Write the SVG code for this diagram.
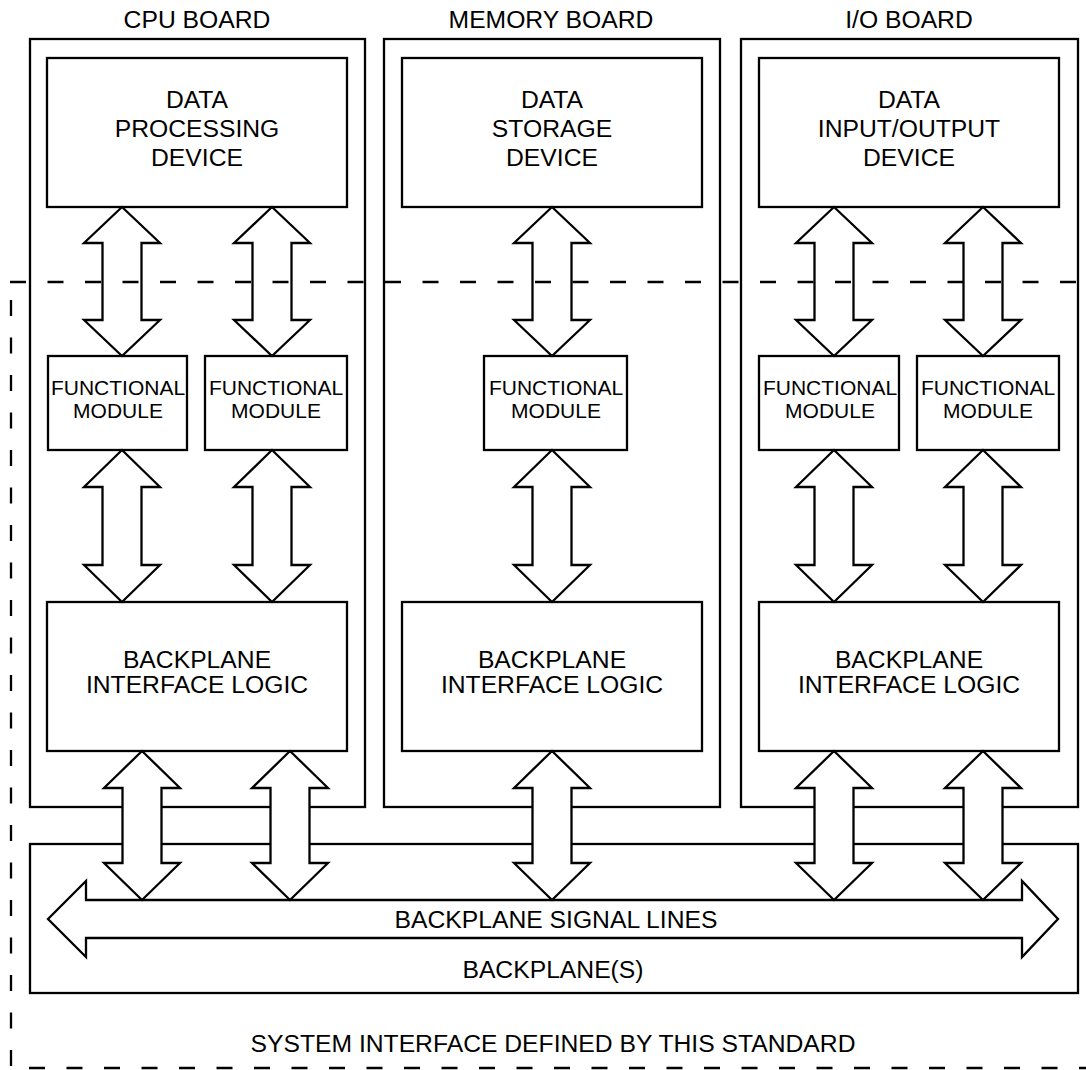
<svg xmlns="http://www.w3.org/2000/svg" width="1086" height="1070" viewBox="0 0 1086 1070">
<style>
.box{fill:#fff;stroke:#000;stroke-width:2.3}
.arr{fill:#fff;stroke:#000;stroke-width:2.3;stroke-linejoin:miter}
.dash{fill:none;stroke:#000;stroke-width:2.3;stroke-dasharray:16 21.5}
text{font-family:"Liberation Sans",Arial,Helvetica,sans-serif;font-size:24.7px;fill:#000;text-anchor:middle}
.fm{font-size:21px}
</style>
<rect width="1086" height="1070" fill="#fff"/>
<g id="cpu-board">
<rect class="box" x="30" y="39" width="335" height="768"/>
<text x="197" y="28">CPU BOARD</text>
</g>
<g id="memory-board">
<rect class="box" x="384" y="39" width="336" height="768"/>
<text x="551" y="28">MEMORY BOARD</text>
</g>
<g id="io-board">
<rect class="box" x="741" y="39" width="337" height="768"/>
<text x="909" y="28">I/O BOARD</text>
</g>
<g id="backplane">
<rect class="box" x="30" y="844" width="1048" height="149"/>
<text x="553" y="978">BACKPLANE(S)</text>
</g>
<g id="cpu-data">
<rect class="box" x="47" y="58" width="300" height="149"/>
<text x="197" y="108">DATA</text><text x="197" y="137">PROCESSING</text><text x="197" y="166">DEVICE</text>
</g>
<g id="mem-data">
<rect class="box" x="402" y="58" width="300" height="149"/>
<text x="552" y="108">DATA</text><text x="552" y="137">STORAGE</text><text x="552" y="166">DEVICE</text>
</g>
<g id="io-data">
<rect class="box" x="759" y="58" width="300" height="149"/>
<text x="909" y="108">DATA</text><text x="909" y="137">INPUT/OUTPUT</text><text x="909" y="166">DEVICE</text>
</g>
<g id="cpu-fm1">
<rect class="box" x="48" y="356" width="139" height="94"/>
<text class="fm" x="118" y="395">FUNCTIONAL</text><text class="fm" x="118" y="418">MODULE</text>
</g>
<g id="cpu-fm2">
<rect class="box" x="205" y="356" width="142" height="94"/>
<text class="fm" x="276" y="395">FUNCTIONAL</text><text class="fm" x="276" y="418">MODULE</text>
</g>
<g id="mem-fm">
<rect class="box" x="484" y="356" width="143" height="94"/>
<text class="fm" x="556" y="395">FUNCTIONAL</text><text class="fm" x="556" y="418">MODULE</text>
</g>
<g id="io-fm1">
<rect class="box" x="759" y="356" width="140" height="94"/>
<text class="fm" x="830" y="395">FUNCTIONAL</text><text class="fm" x="830" y="418">MODULE</text>
</g>
<g id="io-fm2">
<rect class="box" x="917" y="356" width="142" height="94"/>
<text class="fm" x="988" y="395">FUNCTIONAL</text><text class="fm" x="988" y="418">MODULE</text>
</g>
<g id="cpu-bil">
<rect class="box" x="47" y="602" width="300" height="149"/>
<text x="197" y="668">BACKPLANE</text><text x="197" y="693">INTERFACE LOGIC</text>
</g>
<g id="mem-bil">
<rect class="box" x="402" y="602" width="300" height="149"/>
<text x="552" y="668">BACKPLANE</text><text x="552" y="693">INTERFACE LOGIC</text>
</g>
<g id="io-bil">
<rect class="box" x="759" y="602" width="300" height="149"/>
<text x="909" y="668">BACKPLANE</text><text x="909" y="693">INTERFACE LOGIC</text>
</g>
<g id="connectors">
<path class="arr" d="M48 919 L86 881 L86 900 L1022 900 L1022 881 L1058 919 L1022 957 L1022 938 L86 938 L86 957 Z"/>
<path class="arr" d="M122 207 L160 243 L141.5 243 L141.5 320 L160 320 L122 356 L84 320 L102.5 320 L102.5 243 L84 243 Z"/>
<path class="arr" d="M272 207 L310 243 L291.5 243 L291.5 320 L310 320 L272 356 L234 320 L252.5 320 L252.5 243 L234 243 Z"/>
<path class="arr" d="M552 207 L590 243 L571.5 243 L571.5 320 L590 320 L552 356 L514 320 L532.5 320 L532.5 243 L514 243 Z"/>
<path class="arr" d="M834 207 L872 243 L853.5 243 L853.5 320 L872 320 L834 356 L796 320 L814.5 320 L814.5 243 L796 243 Z"/>
<path class="arr" d="M983 207 L1021 243 L1002.5 243 L1002.5 320 L1021 320 L983 356 L945 320 L963.5 320 L963.5 243 L945 243 Z"/>
<path class="arr" d="M122 450 L160 487 L141.5 487 L141.5 565 L160 565 L122 602 L84 565 L102.5 565 L102.5 487 L84 487 Z"/>
<path class="arr" d="M272 450 L310 487 L291.5 487 L291.5 565 L310 565 L272 602 L234 565 L252.5 565 L252.5 487 L234 487 Z"/>
<path class="arr" d="M552 450 L590 487 L571.5 487 L571.5 565 L590 565 L552 602 L514 565 L532.5 565 L532.5 487 L514 487 Z"/>
<path class="arr" d="M834 450 L872 487 L853.5 487 L853.5 565 L872 565 L834 602 L796 565 L814.5 565 L814.5 487 L796 487 Z"/>
<path class="arr" d="M983 450 L1021 487 L1002.5 487 L1002.5 565 L1021 565 L983 602 L945 565 L963.5 565 L963.5 487 L945 487 Z"/>
<path class="arr" d="M142 751 L180 788 L161.5 788 L161.5 863 L180 863 L142 900 L104 863 L122.5 863 L122.5 788 L104 788 Z"/>
<path class="arr" d="M290 751 L328 788 L309.5 788 L309.5 863 L328 863 L290 900 L252 863 L270.5 863 L270.5 788 L252 788 Z"/>
<path class="arr" d="M552 751 L590 788 L571.5 788 L571.5 863 L590 863 L552 900 L514 863 L532.5 863 L532.5 788 L514 788 Z"/>
<path class="arr" d="M834 751 L872 788 L853.5 788 L853.5 863 L872 863 L834 900 L796 863 L814.5 863 L814.5 788 L796 788 Z"/>
<path class="arr" d="M983 751 L1021 788 L1002.5 788 L1002.5 863 L1021 863 L983 900 L945 863 L963.5 863 L963.5 788 L945 788 Z"/>
</g>
<g id="backplane-label">
<text x="556" y="928">BACKPLANE SIGNAL LINES</text>
</g>
<g id="system-interface">
<path class="dash" d="M10 282 H1086"/>
<path class="dash" d="M11 300 V1068"/>
<path class="dash" d="M29 1068 H1086"/>
<text x="553" y="1052">SYSTEM INTERFACE DEFINED BY THIS STANDARD</text>
</g>
</svg>
